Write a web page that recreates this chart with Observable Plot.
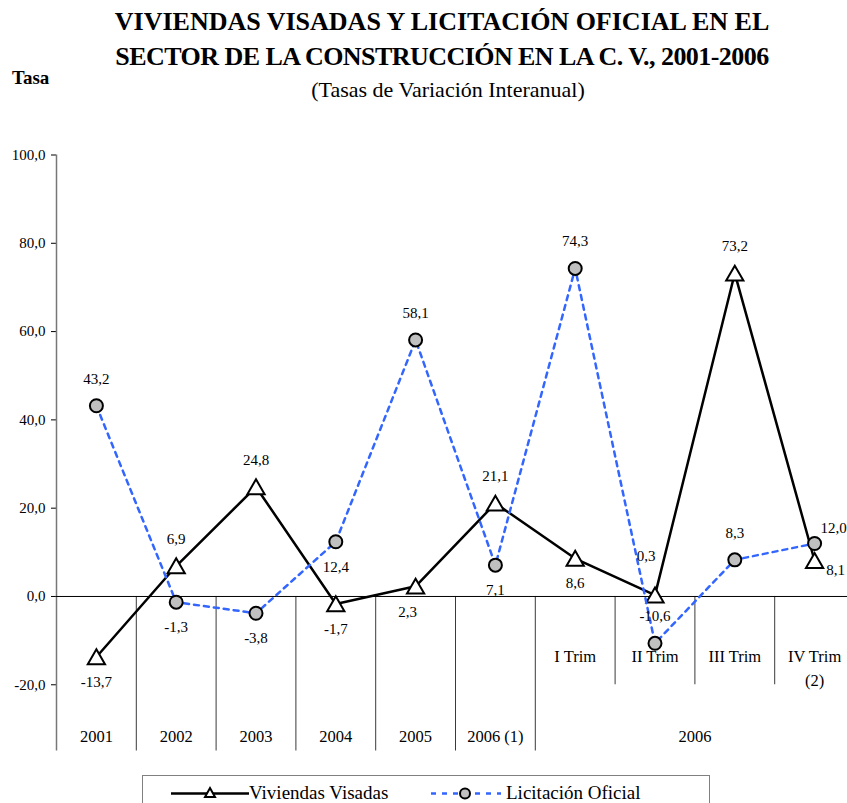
<!DOCTYPE html>
<html>
<head>
<meta charset="utf-8">
<script src="https://cdn.jsdelivr.net/npm/d3@7"></script>
<script src="https://cdn.jsdelivr.net/npm/@observablehq/plot@0.6"></script>
<style>
  html, body { margin: 0; padding: 0; background: #fff; }
  body { font-family: "Liberation Serif", "Times New Roman", serif; color: #000; }
  #wrap { position: relative; width: 847px; height: 803px; overflow: hidden; background: #fff; }
  #chart { position: absolute; left: 0; top: 0; }
  #chart svg, #chart svg text { font-family: "Liberation Serif", "Times New Roman", serif !important; }
  #title { position: absolute; left: 0; top: 4px; width: 884px; text-align: center;
           font-weight: bold; font-size: 26px; line-height: 35px; }
  #title .l2 { letter-spacing: -0.55px; }
  #subtitle { position: absolute; left: 0; top: 77px; width: 896px; text-align: center;
              font-size: 22px; line-height: 26px; }
  #tasa { position: absolute; left: 12px; top: 67px; font-weight: bold; font-size: 19px; line-height: 22px; }
  #legend { position: absolute; left: 142px; top: 775px; width: 566px; height: 40px;
            border: 1px solid #808080; background: #fff; }
  #legend svg { position: absolute; left: 0; top: 0; }
  #legend span { position: absolute; top: 6px; font-size: 19px; line-height: 22px; white-space: nowrap; }
</style>
</head>
<body>
<div id="wrap">
  <div id="chart"></div>
  <div id="title">VIVIENDAS VISADAS Y LICITACIÓN OFICIAL EN EL<br><span class="l2">SECTOR DE LA CONSTRUCCIÓN EN LA C. V., 2001-2006</span></div>
  <div id="tasa">Tasa</div>
  <div id="subtitle">(Tasas de Variación Interanual)</div>
  <div id="legend">
    <svg width="566" height="40">
      <line x1="28" x2="106" y1="17.5" y2="17.5" stroke="#000" stroke-width="2.5"/>
      <path d="M67,12 L72,21 L62,21 Z" fill="#fff" stroke="#000" stroke-width="2"/>
      <line x1="288" x2="358" y1="17.5" y2="17.5" stroke="#3366FF" stroke-width="2.5" stroke-dasharray="5,6"/>
      <circle cx="322" cy="17.5" r="5" fill="#C0C0C0" stroke="#000" stroke-width="2"/>
    </svg>
    <span id="leg1" style="left:106px">Viviendas Visadas</span>
    <span id="leg2" style="left:363px">Licitación Oficial</span>
  </div>
</div>
<script>
// ---- Data ----
const categories = ["2001", "2002", "2003", "2004", "2005", "2006 (1)", "I Trim", "II Trim", "III Trim", "IV Trim"];
const categoryLabels = ["2001", "2002", "2003", "2004", "2005", "2006 (1)", "I Trim", "II Trim", "III Trim", "IV Trim\n(2)"];
const yearCategories = ["2001", "2002", "2003", "2004", "2005", "2006 (1)"];
const quarterCategories = ["I Trim", "II Trim", "III Trim", "IV Trim"];
const quarterGroupLabel = ["2006"];
const viviendasVisadas = [-13.7, 6.9, 24.8, -1.7, 2.3, 21.1, 8.6, 0.3, 73.2, 8.1];
const licitacionOficial = [43.2, -1.3, -3.8, 12.4, 58.1, 7.1, 74.3, -10.6, 8.3, 12.0];
const yTicks = [-20, 0, 20, 40, 60, 80, 100];
// label placement relative to each point
const viviendasLabelPlace = ["below", "above", "above", "below", "belowLeft", "above", "below", "upLeft", "above", "rightDown"];
const licitacionLabelPlace = ["above", "below", "below", "below", "above", "below", "above", "above", "above", "rightUp"];

// ---- Build table ----
const rows = categories.map((c, i) => ({
  cat: c,
  viv: viviendasVisadas[i],
  lic: licitacionOficial[i],
  vivPlace: viviendasLabelPlace[i],
  licPlace: licitacionLabelPlace[i]
}));

const locale = d3.formatLocale({decimal: ",", thousands: ".", grouping: [3], currency: ["", " €"], minus: "-"});
const fmt = locale.format(".1f");

const serif = "'Liberation Serif', 'Times New Roman', serif";
const yMin = -35, yMax = 100;
const xLeft = 56, xRight = 854;
const bw = (xRight - xLeft) / categories.length;
const H = 770;
const frameTop = 154.5, frameBottom = 750.5;

const offsets = {
  above: [0, -27],
  below: [0, 25],
  belowLeft: [-8, 26],
  upLeft: [-9, -39],
  rightUp: [19, -15],
  rightDown: [21, 9]
};

function labelMarks(key, placeKey, name) {
  return Object.entries(offsets).map(([p, [dx, dy]]) =>
    Plot.text(rows.filter(r => r[placeKey] === p), {
      x: "cat", y: key, text: d => fmt(d[key]), dx, dy,
      fill: "#000", fontSize: 15, fontFamily: serif, ariaLabel: "label-" + name
    })
  );
}

const fullDividers = ["2002", "2003", "2004", "2005", "2006 (1)", "I Trim"];
const shortDividers = ["II Trim", "III Trim", "IV Trim"];

const plot = Plot.plot({
  width: 847,
  height: H,
  marginTop: frameTop,
  marginBottom: H - frameBottom,
  marginLeft: xLeft,
  marginRight: 0,
  style: {fontFamily: serif, fontSize: "15px", background: "transparent", color: "#000", overflow: "visible"},
  x: {type: "band", domain: categories, range: [xLeft, xRight], padding: 0, round: false, axis: null},
  y: {domain: [yMin, yMax], ticks: yTicks, tickFormat: fmt, tickSize: 5, tickPadding: 6, label: null},
  marks: [
    // category dividers
    Plot.ruleX(fullDividers, {x: d => d, dx: -bw / 2, y1: 0, y2: yMin, stroke: "#3a3a3a", strokeWidth: 1}),
    Plot.ruleX(shortDividers, {x: d => d, dx: -bw / 2, y1: 0, y2: -20, stroke: "#3a3a3a", strokeWidth: 1}),
    // y axis line
    Plot.ruleX([categories[0]], {x: d => d, dx: -bw / 2, stroke: "#777", strokeWidth: 1.5}),
    // zero line
    Plot.ruleY([0], {stroke: "#000", strokeWidth: 1}),
    // Viviendas Visadas
    Plot.line(rows, {x: "cat", y: "viv", stroke: "#000", strokeWidth: 2.5}),
    Plot.dot(rows, {x: "cat", y: "viv", symbol: "triangle", r: 6.4, dy: 2.3, fill: "#fff", stroke: "#000", strokeWidth: 2}),
    // Licitación Oficial
    Plot.line(rows, {x: "cat", y: "lic", stroke: "#3366FF", strokeWidth: 2.5, strokeDasharray: "5,5"}),
    Plot.dot(rows, {x: "cat", y: "lic", r: 6.5, fill: "#C0C0C0", stroke: "#000", strokeWidth: 2}),
    // data labels
    ...labelMarks("viv", "vivPlace", "viv"),
    ...labelMarks("lic", "licPlace", "lic"),
    // category labels
    Plot.text(yearCategories, {x: d => d, text: d => categoryLabels[categories.indexOf(d)], frameAnchor: "bottom", dy: -14, lineAnchor: "middle", fontSize: 16.5, fontFamily: serif, fill: "#000"}),
    Plot.text(quarterCategories, {x: d => d, text: d => categoryLabels[categories.indexOf(d)], frameAnchor: "bottom", dy: -106, lineAnchor: "top", lineHeight: 1.45, fontSize: 16.5, fontFamily: serif, fill: "#000"}),
    Plot.text(quarterGroupLabel, {x: () => "III Trim", text: d => d, dx: -bw / 2, frameAnchor: "bottom", dy: -14, lineAnchor: "middle", fontSize: 16.5, fontFamily: serif, fill: "#000"})
  ]
});

document.getElementById("chart").append(plot);

// white boxes behind data labels (like the spreadsheet data-label boxes)
plot.querySelectorAll('g[aria-label^="label-"] text').forEach(t => {
  const b = t.getBBox();
  const r = document.createElementNS("http://www.w3.org/2000/svg", "rect");
  r.setAttribute("x", b.x - 2);
  r.setAttribute("y", b.y - 1);
  r.setAttribute("width", b.width + 4);
  r.setAttribute("height", b.height + 3);
  r.setAttribute("fill", "#fff");
  r.setAttribute("stroke", "none");
  const tr = t.getAttribute("transform");
  if (tr) r.setAttribute("transform", tr);
  t.parentNode.insertBefore(r, t);
});
</script>
</body>
</html>
